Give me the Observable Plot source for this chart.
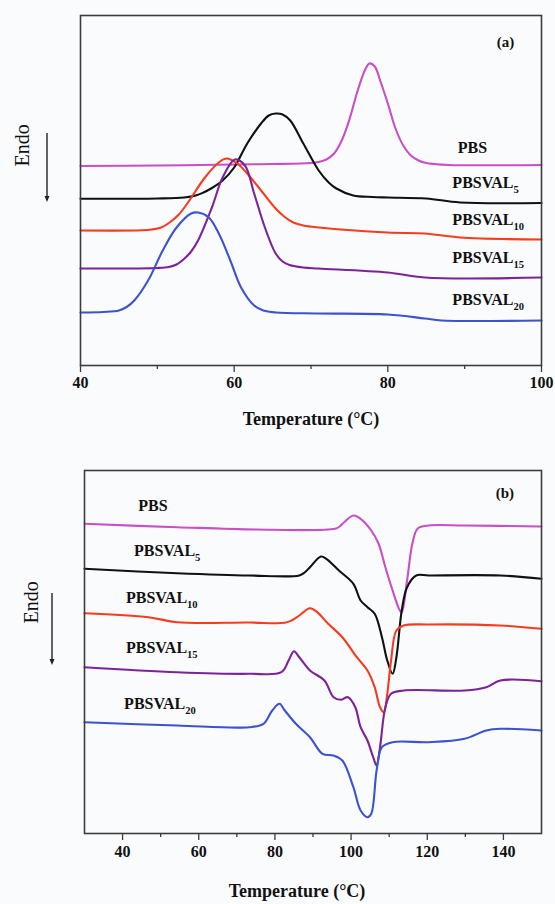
<!DOCTYPE html>
<html><head><meta charset="utf-8">
<script src="https://cdn.jsdelivr.net/npm/d3@7"></script>
<script src="https://cdn.jsdelivr.net/npm/@observablehq/plot@0.6"></script>
<style>
html,body{margin:0;padding:0;background:#fafbfd;}
#wrap{position:relative;width:555px;height:904px;overflow:hidden;}
#wrap > svg{position:absolute;left:0;}
</style></head><body><div id="wrap"></div>
<script>
// ---------- shared ----------
const seriesNames = ["PBS","PBSVAL5","PBSVAL10","PBSVAL15","PBSVAL20"];
const seriesColors = ["#c94fc9","#111111","#f53c1e","#7d2398","#3d52cf"];
const axisTitle = "Temperature (°C)";
const yTitle = "Endo";

// ---------- panel (a): cooling scans, [temperature °C, heat flow a.u.] ----------
const aPBS = [[40,19.95],[50,20.0],[60,20.1],[65,20.15],[70,20.25],[71,20.35],[72,20.6],[73,21.2],[74,22.5],[75,24.6],[76,27.3],[77,29.5],[77.6,30.2],[78.3,29.9],[79,28.5],[80,26.2],[81,23.7],[82,22.0],[83,21.0],[84,20.5],[85,20.25],[86,20.15],[88,20.05],[100,20.05]];
const aPBSVAL5 = [[40,16.67],[50,16.7],[53.5,16.8],[55,17.0],[56,17.3],[57,17.7],[58.5,18.5],[60,19.8],[61.7,22.2],[63.5,24.2],[64.5,25.0],[65.4,25.2],[66.3,25.1],[67.3,24.5],[69,22.2],[71,19.5],[72.3,18.3],[73.3,17.7],[75.5,17.0],[78,16.85],[80,16.8],[85,16.7],[89.4,16.3],[100,16.25]];
const aPBSVAL10 = [[40,13.5],[48,13.52],[49.3,13.6],[50.5,13.8],[51.6,14.3],[52.8,15.1],[53.9,16.2],[56.2,18.8],[58,20.3],[59,20.7],[60.4,20.2],[61.7,19.2],[63.5,17.5],[65.4,15.7],[66.5,14.9],[67.7,14.3],[69,14.0],[71,13.8],[80,13.3],[84.8,13.2],[89.4,12.8],[100,12.6]];
const aPBSVAL15 = [[40,9.7],[50,9.75],[51.5,9.85],[52.5,10.1],[53.4,10.6],[54.4,11.4],[55.3,12.5],[57.1,15.8],[58.5,18.8],[60.1,20.6],[61.4,20.0],[62.6,17.2],[64,13.8],[65.4,11.2],[66.3,10.4],[67.2,10.05],[69,9.8],[71,9.7],[80,9.3],[84.8,8.8],[100,8.8]];
const aPBSVAL20 = [[40,5.3],[43,5.35],[45,5.5],[46,5.85],[47,6.5],[48.8,8.5],[50.7,11.5],[52.5,13.8],[54.4,15.2],[55.3,15.3],[56.7,14.8],[58,13.2],[59.5,10.5],[60.9,7.8],[62.6,6.0],[63.8,5.5],[65.4,5.3],[71,5.2],[80,5.1],[84.8,4.7],[87,4.5],[100,4.5]];
const aTicks = [40,60,80,100];
const aMinorTicks = [50,70,90];
const aLabelPos = [[89.1,21.8],[88.4,18.25],[88.4,14.6],[88.4,10.8],[88.4,6.6]];
const aTag = ["(a)", 95.3, 32.3];

// ---------- panel (b): heating scans ----------
const bPBS = [[30,30.97],[54.3,30.63],[75,30.4],[95.8,30.47],[97,30.7],[98.2,31.13],[100.6,31.8],[102.5,31.47],[105.3,30.3],[107.2,29.0],[109,26.63],[110.9,24.3],[112.8,22.3],[113.3,22.13],[114.7,25.3],[116.1,29.0],[117.5,30.5],[120.4,30.8],[129.8,30.8],[150,30.7]];
const bPBSVAL5 = [[30,26.47],[54.3,26.03],[73.2,25.8],[86.4,25.8],[87.8,26.1],[89.2,26.63],[92.1,27.7],[93.5,27.47],[96.8,26.3],[100.6,24.97],[102.5,23.3],[104.3,22.63],[106.2,21.97],[108.1,19.63],[109.5,17.3],[110.9,15.97],[111.9,17.63],[113.3,22.3],[114.7,24.63],[117.1,25.8],[120.4,25.8],[139.2,25.8],[150,25.47]];
const bPBSVAL10 = [[30,22.03],[46.8,21.63],[54.3,21.13],[73.2,21.1],[82.6,21.07],[84.6,21.35],[86.4,21.8],[89.2,22.53],[91.1,22.13],[94,20.97],[97.7,19.63],[101.5,17.63],[104.3,16.3],[106.2,14.63],[107.6,12.63],[108.6,12.13],[109.5,13.97],[110.5,17.3],[111.9,20.3],[113.8,20.8],[120.4,20.9],[139.2,20.8],[150,20.47]];
const bPBSVAL15 = [[30,16.63],[54.3,16.13],[73.2,15.97],[81.7,16.13],[83.6,17.3],[85,18.23],[86.4,17.63],[89.2,16.3],[93,15.3],[95.4,13.63],[97.3,13.37],[99.2,13.63],[101.1,12.63],[102.5,10.63],[104.3,9.3],[105.8,7.63],[106.7,6.8],[107.6,8.63],[109,12.63],[110.5,13.97],[113.8,14.3],[129.8,14.3],[135.5,14.63],[139.2,15.3],[150,15.23]];
const bPBSVAL20 = [[30,11.13],[54.3,10.8],[73.2,10.63],[77,10.97],[79.3,12.3],[81.2,12.97],[82.6,12.3],[85.5,10.97],[89.2,9.63],[92.5,7.97],[95.4,7.8],[97.7,7.3],[100.6,4.63],[102.5,2.3],[104.3,1.63],[105.3,1.97],[106.7,6.3],[108.1,8.63],[110.9,9.13],[120.4,9.13],[129.8,9.47],[135.5,10.3],[139.2,10.47],[150,10.3]];
const bTicks = [40,60,80,100,120,140];
const bMinorTicks = [50,70,90,110,130];
const bLabelPos = [[44.1,32.8],[43.0,28.3],[40.9,23.6],[40.9,18.6],[40.4,13.0]];
const bTag = ["(b)", 140.4, 34.0];

function rows(list){
  return list.flatMap((s,i)=>s.map(([T,v])=>({T,v,series:seriesNames[i]})));
}
function labelRows(pos){
  return pos.map(([T,v],i)=>({T,v,name:seriesNames[i]}));
}

const FONT = "'Liberation Serif','Times New Roman',serif";

function panel(cfg){
  const svg = Plot.plot({
    width:555, height:cfg.height,
    marginTop:cfg.mt, marginBottom:cfg.mb, marginLeft:cfg.ml, marginRight:cfg.mr,
    style:{background:"transparent", fontFamily:FONT, color:"#222"},
    x:{domain:cfg.xdomain},
    y:{domain:cfg.ydomain, axis:null},
    color:{domain:seriesNames, range:seriesColors},
    marks:[
      Plot.lineY(rows(cfg.series),{x:"T", y:"v", z:"series", stroke:"series", strokeWidth:2.1, curve:"catmull-rom"}),
      Plot.frame({stroke:"#3c3c3c", strokeWidth:1.6}),
      Plot.axisX({ticks:cfg.ticks, tickSize:7, tickPadding:cfg.tp, fontSize:16, label:null, stroke:"#3c3c3c", strokeWidth:1.3}),
      Plot.axisX({ticks:cfg.minor, tickSize:4, tickFormat:()=>"", label:null, stroke:"#3c3c3c", strokeWidth:1.3}),
      Plot.text(labelRows(cfg.labels),{x:"T", y:"v", text:"name", textAnchor:"start", lineAnchor:"middle", fontSize:16, fontWeight:"bold", fill:"#111"}),
      Plot.text([cfg.tag],{x:d=>d[1], y:d=>d[2], text:d=>d[0], fontSize:15, fontWeight:"bold", fill:"#111"}),
      Plot.text([axisTitle],{frameAnchor:"bottom", dy:cfg.titleDy, dx:cfg.titleDx, lineAnchor:"middle", fontSize:18, fontWeight:"bold", fill:"#111"}),
      Plot.text([yTitle],{frameAnchor:"left", dx:cfg.endoDx, dy:cfg.endoDy, rotate:-90, lineAnchor:"middle", fontSize:20, fill:"#111"})
    ]
  });
  // bold tick labels (numeric texts)
  d3.select(svg).selectAll("text").each(function(){
    if(/^\d+$/.test(this.textContent.trim())){
      this.setAttribute("font-weight","bold");
      this.style.fontWeight = "bold";
      this.setAttribute("fill","#111");
    }
  });
  // subscripts for PBSVAL labels
  d3.select(svg).selectAll("text").each(function(){
    const m = /^(PBSVAL)(\d+)$/.exec(this.textContent);
    if(m){
      this.textContent = m[1];
      d3.select(this).append("tspan").attr("dy","0.5em").attr("font-size","0.66em").text(m[2]);
    }
  });
  // Endo arrow
  const g = d3.select(svg).append("g");
  g.append("line").attr("x1",cfg.arrow[0]).attr("x2",cfg.arrow[0]).attr("y1",cfg.arrow[1]).attr("y2",cfg.arrow[2]-4)
    .attr("stroke","#222").attr("stroke-width",1.4);
  g.append("path").attr("d",`M${cfg.arrow[0]-2.5},${cfg.arrow[2]-6}L${cfg.arrow[0]+2.5},${cfg.arrow[2]-6}L${cfg.arrow[0]},${cfg.arrow[2]}Z`).attr("fill","#222");
  svg.style.top = cfg.top+"px";
  return svg;
}

const wrap = document.getElementById("wrap");
wrap.appendChild(panel({
  top:0, height:440, mt:15, mb:75, ml:80, mr:14,
  xdomain:[40,100], ydomain:[0,35],
  series:[aPBS,aPBSVAL5,aPBSVAL10,aPBSVAL15,aPBSVAL20],
  ticks:aTicks, minor:aMinorTicks, tp:4,
  labels:aLabelPos, tag:aTag,
  titleDy:54, titleDx:0, endoDx:-58, endoDy:-24,
  arrow:[47,133,202]
}));
wrap.appendChild(panel({
  top:440, height:464, mt:30, mb:71, ml:84, mr:14,
  xdomain:[30,150], ydomain:[0,36.3],
  series:[bPBS,bPBSVAL5,bPBSVAL10,bPBSVAL15,bPBSVAL20],
  ticks:bTicks, minor:bMinorTicks, tp:5,
  labels:bLabelPos, tag:bTag,
  titleDy:58, titleDx:-16, endoDx:-53, endoDy:-28.5,
  arrow:[52,153,225]
}));
</script></body></html>
